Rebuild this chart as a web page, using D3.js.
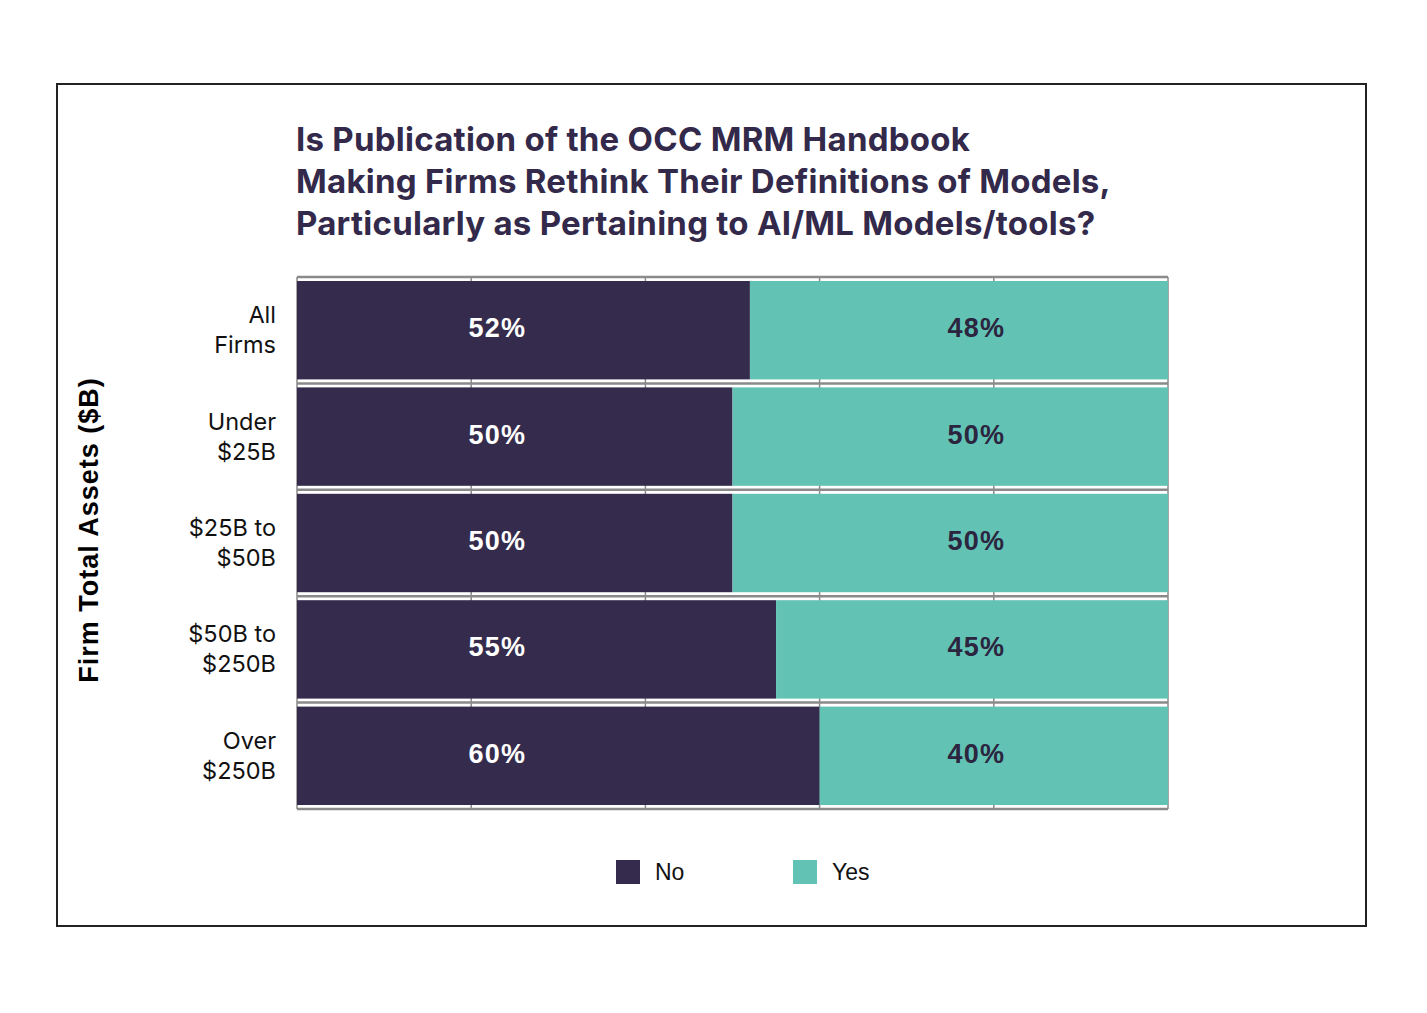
<!DOCTYPE html>
<html>
<head>
<meta charset="utf-8">
<script src="https://cdn.jsdelivr.net/npm/d3@7"></script>
<style>
  body { margin: 0; background: #fff; }
</style>
</head>
<body>
<div id="chart"></div>
<script>
var categories = [["All", "Firms"], ["Under", "$25B"], ["$25B to", "$50B"], ["$50B to", "$250B"], ["Over", "$250B"]];
var noValues = [52, 50, 50, 55, 60];
var yesValues = [48, 50, 50, 45, 40];
var seriesNames = ["No", "Yes"];
var xTicks = [0, 20, 40, 60, 80, 100];
var titleLines = [
  "Is Publication of the OCC MRM Handbook",
  "Making Firms Rethink Their Definitions of Models,",
  "Particularly as Pertaining to AI/ML Models/tools?"
];

var W = 1427, H = 1013;
var colors = {No: "#352b4c", Yes: "#62c3b4"};

var svg = d3.select("#chart").append("svg")
  .attr("width", W)
  .attr("height", H);

svg.append("rect")
  .attr("x", 57).attr("y", 84)
  .attr("width", 1309).attr("height", 842)
  .attr("fill", "none")
  .attr("stroke", "#222")
  .attr("stroke-width", 2);

svg.append("text")
  .attr("x", 297)
  .attr("font-family", "Inter, sans-serif")
  .attr("font-weight", 650)
  .attr("font-size", 33)
  .attr("letter-spacing", 0.25)
  .attr("fill", "#33294a")
  .selectAll("tspan")
  .data(titleLines)
  .join("tspan")
    .attr("x", 296)
    .attr("y", function(d, i){ return 151 + i * 42; })
    .text(function(d){ return d; });

var x = d3.scaleLinear().domain([0, 100]).range([297, 1168]);
var y = d3.scaleBand().domain(d3.range(categories.length)).range([277, 809]);

var rows = categories.map(function(c, i){
  return {i: i, No: noValues[i], Yes: yesValues[i]};
});
var stacked = d3.stack().keys(seriesNames)(rows);

// vertical grid
svg.append("g")
  .selectAll("line")
  .data(xTicks)
  .join("line")
    .attr("x1", function(d){ return x(d); })
    .attr("x2", function(d){ return x(d); })
    .attr("y1", y.range()[0])
    .attr("y2", y.range()[1])
    .attr("stroke", "#8a8a8a")
    .attr("stroke-width", 1.5);

// band boundaries
var bounds = d3.range(categories.length + 1).map(function(i){ return y.range()[0] + i * y.step(); });
svg.append("g")
  .selectAll("line")
  .data(bounds)
  .join("line")
    .attr("x1", x(0))
    .attr("x2", x(100))
    .attr("y1", function(d){ return d; })
    .attr("y2", function(d){ return d; })
    .attr("stroke", "#8a8a8a")
    .attr("stroke-width", 2.5);

var pad = 4;
svg.append("g")
  .selectAll("g")
  .data(stacked)
  .join("g")
    .attr("fill", function(s){ return colors[s.key]; })
  .selectAll("rect")
  .data(function(s){ return s; })
  .join("rect")
    .attr("x", function(d){ return x(d[0]); })
    .attr("width", function(d){ return x(d[1]) - x(d[0]); })
    .attr("y", function(d){ return y(d.data.i) + pad; })
    .attr("height", y.bandwidth() - 2 * pad);

// value labels at fixed positions
var labelPos = {No: 23, Yes: 78};
stacked.forEach(function(s){
  svg.append("g")
    .selectAll("text")
    .data(s)
    .join("text")
      .attr("x", x(labelPos[s.key]))
      .attr("y", function(d){ return y(d.data.i) + y.bandwidth() / 2 + 7; })
      .attr("text-anchor", "middle")
      .attr("font-family", "Liberation Sans, Arial, sans-serif")
      .attr("font-weight", 700)
      .attr("font-size", 27)
      .attr("letter-spacing", 1.2)
      .attr("fill", s.key === "No" ? "#fff" : "#2b2540")
      .text(function(d){ return (d[1] - d[0]) + "%"; });
});

// category labels
svg.append("g")
  .selectAll("text")
  .data(categories)
  .join("text")
    .attr("text-anchor", "end")
    .attr("font-family", "Inter, sans-serif")
    .attr("font-size", 23.5)
    .attr("fill", "#111")
    .each(function(c, i){
      d3.select(this).selectAll("tspan")
        .data(c)
        .join("tspan")
          .attr("x", 276)
          .attr("y", function(d, j){ return y(i) + y.bandwidth() / 2 - 7 + j * 30; })
          .text(function(d){ return d; });
    });

// y axis title
svg.append("text")
  .attr("transform", "translate(98,530) rotate(-90)")
  .attr("text-anchor", "middle")
  .attr("font-family", "Liberation Sans, Arial, sans-serif")
  .attr("font-weight", 700)
  .attr("font-size", 27)
  .attr("letter-spacing", 1)
  .attr("fill", "#000")
  .text("Firm Total Assets ($B)");

// legend
var legend = svg.append("g")
  .selectAll("g")
  .data(seriesNames)
  .join("g")
    .attr("transform", function(d, i){ return "translate(" + (616 + i * 177) + ",860)"; });
legend.append("rect")
  .attr("width", 24).attr("height", 24)
  .attr("fill", function(d){ return colors[d]; });
legend.append("text")
  .attr("x", 39).attr("y", 20)
  .attr("font-family", "Liberation Sans, Arial, sans-serif")
  .attr("font-size", 23)
  .attr("fill", "#111")
  .text(function(d){ return d; });
</script>
</body>
</html>
